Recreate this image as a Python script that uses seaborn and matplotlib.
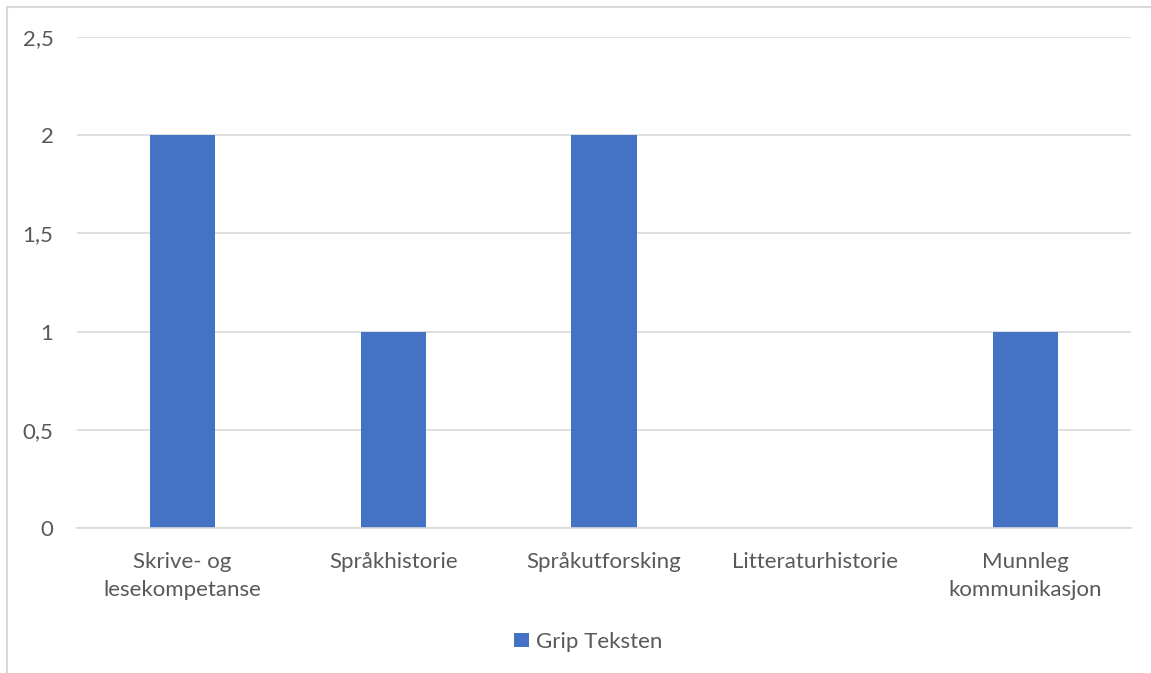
import matplotlib
matplotlib.use("Agg")
import matplotlib.pyplot as plt
import seaborn as sns
import pandas as pd
from matplotlib.patches import Rectangle

categories = ["Skrive- og\nlesekompetanse", "Språkhistorie", "Språkutforsking",
              "Litteraturhistorie", "Munnleg\nkommunikasjon"]
values = [2, 1, 2, 0, 1]
series_name = "Grip Teksten"
y_ticks = [0, 0.5, 1, 1.5, 2, 2.5]
y_tick_labels = ["0", "0,5", "1", "1,5", "2", "2,5"]

sns.set_theme(style="white")
plt.rcParams["font.family"] = ["Lato", "DejaVu Sans"]

TEXT = "#595959"
GRID = "#d9d9d9"
BAR = "#4472C4"

df = pd.DataFrame({"kategori": categories, "verdi": values, "serie": series_name})

fig = plt.figure(figsize=(11.51, 6.73), dpi=100)
ax = fig.add_axes([0.0669, 0.2155, 0.9157, 0.7295])

sns.barplot(data=df, x="kategori", y="verdi", hue="serie", palette=[BAR],
            width=0.31, ax=ax, legend=True, saturation=1, linewidth=0)

ax.set_ylim(0, 2.5)
ax.set_xlim(-0.5, len(categories) - 0.5)
ax.set_yticks(y_ticks)
ax.set_yticklabels(y_tick_labels)
ax.yaxis.grid(True, color=GRID, linewidth=1.2)
ax.set_axisbelow(True)
for s in ["top", "right", "left"]:
    ax.spines[s].set_visible(False)
ax.spines["bottom"].set_color(GRID)
ax.spines["bottom"].set_linewidth(1.2)
ax.tick_params(axis="both", length=0, colors=TEXT, labelsize=16)
ax.tick_params(axis="y", pad=17)
ax.tick_params(axis="x", pad=17)
for lbl in ax.get_xticklabels():
    lbl.set_linespacing(1.5)
ax.set_xlabel("")
ax.set_ylabel("")

leg = ax.legend(loc="center", bbox_to_anchor=(0.485, -0.232), frameon=False,
                fontsize=16, handlelength=0.65, handleheight=0.65,
                handletextpad=0.3, labelcolor=TEXT)

# outer chart border
fig.patches.append(Rectangle((7 / 1151, -0.05), 1.2, 1 - 7 / 673 + 0.05,
                             transform=fig.transFigure, fill=False,
                             edgecolor=GRID, linewidth=1.5))

fig.savefig("out.png", dpi=100)
